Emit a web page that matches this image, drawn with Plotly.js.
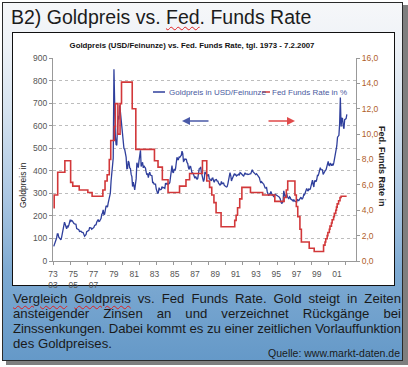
<!DOCTYPE html>
<html><head><meta charset="utf-8">
<script src="https://cdn.plot.ly/plotly-3.0.1.min.js"></script>
<style>
html,body{margin:0;padding:0;}
body{width:408px;height:367px;position:relative;overflow:hidden;background:#ffffff;font-family:"Liberation Sans",Arial,sans-serif;}
#shadow{position:absolute;left:6px;top:5px;width:402px;height:360px;background:#7f7f7f;}
#slide{position:absolute;left:2px;top:2px;width:399px;height:357px;border:1px solid #2a2a2a;overflow:hidden;
 background:linear-gradient(to bottom,#f6f7f9 0%,#eef2f7 12%,#d6e3f0 30%,#aac6e2 55%,#7eaad2 75%,#6599c8 100%);}
#title{position:absolute;left:8px;top:3px;font-size:19.5px;color:#1c1c1c;white-space:nowrap;}
.sq{text-decoration:underline wavy #e02020;text-decoration-thickness:1px;text-underline-offset:2px;}
#chartbox{position:absolute;left:12px;top:32px;width:381px;height:252px;border:1px solid #111;background:#fff;}
#caption{position:absolute;left:10px;top:288px;width:388px;font-size:13.2px;line-height:15px;color:#1a1a1a;}
#caption div{text-align:justify;text-align-last:justify;white-space:nowrap;}
#caption div.last{text-align-last:left;}
#quelle{position:absolute;right:2px;top:344px;font-size:10.5px;line-height:12px;color:#1a1a1a;}
#plot{position:absolute;left:0;top:0;width:408px;height:367px;}
</style></head>
<body>
<div id="shadow"></div>
<div id="slide">
  <div id="title">B2) Goldpreis vs. <span class="sq">Fed</span>. Funds Rate</div>
  <div id="caption">
    <div><span class="sq">Vergleich</span> <span class="sq">Goldpreis</span> vs. Fed Funds Rate. Gold steigt in Zeiten</div>
    <div>ansteigender Zinsen an und verzeichnet Rückgänge bei</div>
    <div>Zinssenkungen. Dabei kommt es zu einer zeitlichen Vorlauffunktion</div>
    <div class="last">des Goldpreises.</div>
  </div>
  <div id="quelle">Quelle: www.markt-daten.de</div>
</div>
<div id="chartbox"></div>
<div id="plot"></div>
<script>
// fit caption lines into the box width
(function(){
  const box = 388;
  document.querySelectorAll('#caption div').forEach(d=>{
    const s = document.createElement('span');
    s.style.whiteSpace='nowrap'; s.innerHTML = d.innerHTML;
    d.innerHTML=''; d.appendChild(s);
    const w = s.getBoundingClientRect().width;
    const n = s.textContent.length;
    if (w > box) d.style.letterSpacing = ((box - w - 1)/n).toFixed(3)+'px';
    d.innerHTML = s.innerHTML;
  });
})();

// ---- data ----
const goldStartYear = 1973;
const goldStartMonth = 1;
// monthly gold price, USD per ounce (Jan 1973 .. Feb 2007)
const goldPrice = [
 65,74,84,90,102,120,120,106,103,100,94,106,
 129,150,168,172,163,154,143,154,151,158,181,183,
 176,180,178,170,167,164,165,163,144,142,142,139,
 131,131,132,128,126,126,118,110,114,117,130,133,
 132,136,148,149,147,141,143,145,149,158,162,161,
 173,178,184,175,176,183,188,206,212,227,206,208,
 227,245,242,239,257,279,295,301,355,392,392,456,
 850,665,553,517,513,600,644,627,690,661,623,594,
 557,500,499,495,480,461,409,410,443,437,413,410,
 384,374,330,350,334,315,339,364,436,422,414,445,
 481,491,419,432,438,413,422,416,412,394,382,388,
 370,386,394,381,378,378,348,348,341,340,341,320,
 303,299,304,325,316,317,317,330,324,326,325,322,
 345,339,346,340,342,343,348,376,418,423,395,391,
 408,401,409,438,460,450,450,461,460,465,468,487,
 477,442,444,452,451,451,437,432,413,406,420,419,
 404,388,390,384,371,367,375,365,362,367,394,409,
 410,417,394,375,369,352,362,395,389,381,381,378,
 384,364,363,358,357,367,368,356,349,359,360,361,
 354,354,345,338,337,340,353,343,345,345,335,334,
 330,328,330,342,367,372,392,379,355,364,374,383,
 387,382,384,377,381,385,385,380,392,390,384,379,
 379,377,382,391,385,387,386,383,383,383,386,387,
 400,405,396,393,392,385,383,387,383,381,378,369,
 355,346,352,344,344,341,324,324,323,325,306,289,
 289,297,296,308,299,292,293,284,289,296,294,291,
 287,287,286,282,277,262,256,257,265,311,293,283,
 284,300,286,280,275,285,282,274,273,270,266,272,
 266,262,263,261,272,270,268,273,283,283,276,276,
 282,296,294,303,314,322,314,310,319,317,319,333,
 357,359,340,328,355,356,351,360,379,379,389,407,
 414,405,406,404,384,392,398,401,405,420,439,442,
 424,423,434,429,422,431,424,438,456,470,476,510,
 549,555,557,610,725,596,633,632,598,586,627,629,
 631,650
];
// Fed Funds Rate in %, step changes
const rateDates = [
 '1973-01-01','1973-02-01','1973-07-01','1974-05-01','1975-01-01','1975-04-01','1976-01-01','1977-01-01','1977-07-01',
 '1978-10-01','1979-01-01','1979-04-01','1979-07-01','1979-09-01','1980-02-01','1980-03-15','1980-07-01','1980-10-01','1980-12-01',
 '1982-03-01','1982-08-01','1984-10-01','1985-03-01','1985-09-01','1986-05-01','1987-09-01','1988-06-01','1988-11-01',
 '1990-05-01','1990-11-01','1991-03-01','1991-06-01','1991-09-01','1991-12-01','1992-07-01',
 '1994-02-01','1994-04-01','1994-06-01','1994-09-01','1994-12-01','1995-12-01','1997-05-01','1998-10-01',
 '1999-11-01','2000-02-01','2000-04-01','2001-02-01','2001-04-01','2001-06-01','2001-09-01','2001-11-01',
 '2002-10-01','2003-05-01','2004-06-01','2004-08-01','2004-09-01','2004-11-01','2004-12-01','2005-02-01',
 '2005-03-01','2005-05-01','2005-06-01','2005-08-01','2005-09-01','2005-11-01','2005-12-01','2006-01-01',
 '2006-03-01','2006-05-01','2006-06-15','2007-02-07'
];
const rateValues = [
 4.2,5.2,7.0,7.9,6.2,5.9,5.6,5.4,5.1,
 5.6,6.3,6.8,8.0,9.5,10.6,12.4,10.0,12.4,14.1,
 12.0,8.8,7.9,7.4,6.4,5.4,5.9,6.4,6.9,
 7.9,6.3,5.8,5.2,4.6,3.8,2.7,
 3.2,3.6,4.2,4.9,5.8,5.4,5.2,4.7,
 5.0,5.6,6.3,5.2,4.3,3.5,2.5,1.5,
 1.0,0.75,1.25,1.5,1.75,2.0,2.25,2.5,
 2.75,3.0,3.25,3.5,3.75,4.0,4.25,4.5,
 4.75,5.0,5.1,5.1
];
// category labels as printed under the axis (two rows)
const xLabels = ['73<br>03','75<br>05','77<br>07','79','81','83','85','87','89','91','93','95','97','99','01'];
const tickYears = [1973,1975,1977,1979,1981,1983,1985,1987,1989,1991,1993,1995,1997,1999,2001,2003,2005,2007];
const goldTicks = [0,100,200,300,400,500,600,700,800,900];
const rateTicks = [0,2,4,6,8,10,12,14,16];

// ---- build ----
const goldDates = goldPrice.map((v,i)=>{
  const m0 = goldStartMonth-1+i;
  const y = goldStartYear + Math.floor(m0/12);
  const m = (m0%12)+1;
  return y+'-'+String(m).padStart(2,'0')+'-15';
});
const FONT = '"Liberation Sans", Arial, sans-serif';
const L=53, R=356, T=58, B=261;
const px = x => (x-L)/(R-L);
const py = y => (B-y)/(B-T);

const traces = [
 {x:goldDates, y:goldPrice, type:'scatter', mode:'lines', line:{color:'#2f3f9c', width:1.3}, xaxis:'x', yaxis:'y', hoverinfo:'skip', showlegend:false},
 {x:rateDates, y:rateValues, type:'scatter', mode:'lines', line:{color:'#d2383a', width:1.6, shape:'hv'}, xaxis:'x', yaxis:'y2', hoverinfo:'skip', showlegend:false},
 {x:[0,xLabels.length-1], y:[null,null], type:'scatter', mode:'lines', xaxis:'x2', yaxis:'y', hoverinfo:'skip', showlegend:false}
];

const layout = {
  width:408, height:367,
  margin:{l:L, r:408-R, t:T, b:367-B, pad:0},
  paper_bgcolor:'rgba(0,0,0,0)', plot_bgcolor:'rgba(0,0,0,0)',
  separators:',.',
  font:{family:FONT, size:8.5, color:'#444'},
  title:{text:'Goldpreis (USD/Feinunze) vs. Fed. Funds Rate, tgl. 1973 - 7.2.2007', x:192/408, xanchor:'center', y:1-45/367, yanchor:'middle',
         font:{family:FONT, size:7.8, color:'#111', weight:'bold'}},
  showlegend:false,
  xaxis:{type:'date', range:['1972-12-13','2008-03-10'], tickvals:tickYears.map(y=>y+'-01-01'), showticklabels:false,
         ticks:'outside', ticklen:3, tickcolor:'#999', showline:true, linecolor:'#999', linewidth:1, showgrid:false, zeroline:false},
  xaxis2:{overlaying:'x', anchor:'y', side:'bottom', range:[0,(R-L)/20.29], tickvals:xLabels.map((_,i)=>i), ticktext:xLabels,
          ticks:'', showline:false, showgrid:false, zeroline:false, tickfont:{size:8.5, color:'#555'}, ticklabelstandoff:6},
  yaxis:{range:[0,900], tickvals:goldTicks, showgrid:true, gridcolor:'#bdbdbd', griddash:'dot', gridwidth:1,
         ticks:'outside', ticklen:3, tickcolor:'#999', showline:true, linecolor:'#999', zeroline:false, tickfont:{size:8.5, color:'#555'}},
  yaxis2:{overlaying:'y', side:'right', range:[0,16], tickvals:rateTicks, tickformat:'.1f', showgrid:false, zeroline:false,
          ticks:'outside', ticklen:3, tickcolor:'#999', showline:true, linecolor:'#999', tickfont:{size:8.5, color:'#b0602a'}},
  shapes:[
    {type:'line', xref:'paper', yref:'paper', x0:px(153), x1:px(165), y0:py(92), y1:py(92), line:{color:'#2f3f9c', width:1.5}},
    {type:'line', xref:'paper', yref:'paper', x0:px(262), x1:px(270), y0:py(92), y1:py(92), line:{color:'#d2383a', width:1.5}}
  ],
  annotations:[
    {xref:'paper', yref:'paper', x:px(167), y:py(92), xanchor:'left', yanchor:'middle', showarrow:false,
     text:'Goldpreis in USD/Feinunze', font:{size:8, color:'#4a5aa0'}},
    {xref:'paper', yref:'paper', x:px(270), y:py(92), xanchor:'left', yanchor:'middle', showarrow:false,
     text:'Fed Funds Rate in %', font:{size:8, color:'#4a5aa0'}},
    {xref:'paper', yref:'paper', x:px(182), y:py(121), ax:28, ay:0, text:'', showarrow:true, arrowhead:2, arrowsize:1, arrowwidth:1.6, arrowcolor:'#4a5aa8'},
    {xref:'paper', yref:'paper', x:px(295), y:py(121), ax:-28, ay:0, text:'', showarrow:true, arrowhead:2, arrowsize:1, arrowwidth:1.6, arrowcolor:'#e04a4a'},
    {xref:'paper', yref:'paper', x:px(23), y:py(185), xanchor:'center', yanchor:'middle', showarrow:false, textangle:-90,
     text:'Goldpreis in', font:{size:8.5, color:'#222'}},
    {xref:'paper', yref:'paper', x:px(382), y:py(166), xanchor:'center', yanchor:'middle', showarrow:false, textangle:90,
     text:'<b>Fed. Funds Rate in</b>', font:{size:9, color:'#222'}}
  ]
};
Plotly.newPlot('plot', traces, layout, {staticPlot:true, displayModeBar:false});
</script>
</body></html>
